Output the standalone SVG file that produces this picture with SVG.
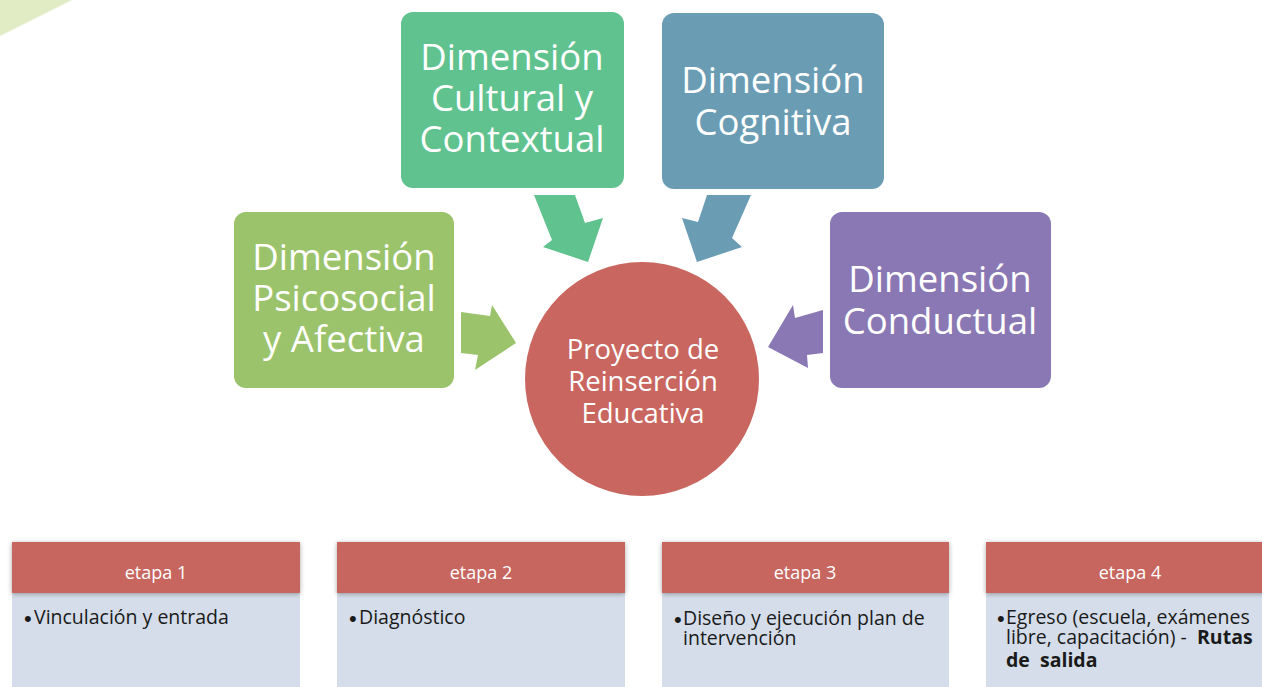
<svg xmlns="http://www.w3.org/2000/svg" width="1262" height="687" viewBox="0 0 1262 687">
  <defs>
    <style>
      .big { font-family: "Open Sans", "Liberation Sans", sans-serif; font-size: 36.5px; fill: #ffffff; text-anchor: middle; }
      .mid { font-family: "Open Sans", "Liberation Sans", sans-serif; font-size: 27.5px; fill: #ffffff; text-anchor: middle; }
      .hd { font-family: "Open Sans", "Liberation Sans", sans-serif; font-size: 18px; fill: #ffffff; text-anchor: middle; }
      .bd { font-family: "Open Sans", "Liberation Sans", sans-serif; font-size: 19.5px; fill: #1a1a1a; white-space: pre; }
      .bu { font-family: "Liberation Sans", sans-serif; font-size: 22px; }
      .b { font-weight: bold; }
      .hdr { fill: #c7665f; }
      .body { fill: #d4dde9; }
    </style>
    <filter id="sh" x="-5%" y="-20%" width="110%" height="140%">
      <feGaussianBlur in="SourceAlpha" stdDeviation="2.5"/>
      <feOffset dx="0" dy="1" result="b"/>
      <feComponentTransfer><feFuncA type="linear" slope="0.35"/></feComponentTransfer>
      <feMerge><feMergeNode/><feMergeNode in="SourceGraphic"/></feMerge>
    </filter>
  </defs>

  <rect width="1262" height="687" fill="#ffffff"/>
  <polygon points="0,0 72,0 0,36" fill="#e2ecc4"/>

  <g id="connectors">
    <polygon points="461,312 490,316 492,305 516,343 475,370 478,355 461,353" fill="#9bc36b"/>
    <polygon points="534,195 575,195 585,223 603,218 588,262 543,247 552,240" fill="#5fc28f"/>
    <polygon points="751,195 707,195 698,222 682,218 697,262 742,247 732,238" fill="#6a9cb4"/>
    <polygon points="823,310 795,318 793,305 768,347 808,368 807,355 823,353" fill="#8a78b4"/>
  </g>

  <g id="dim-psicosocial">
    <rect x="234" y="212" width="220" height="176" rx="12" fill="#9bc36b"/>
    <text class="big"><tspan x="344" y="270">Dimensión</tspan><tspan x="344" y="311">Psicosocial</tspan><tspan x="344" y="352">y Afectiva</tspan></text>
  </g>

  <g id="dim-cultural">
    <rect x="401" y="12" width="223" height="176" rx="12" fill="#5fc28f"/>
    <text class="big"><tspan x="512" y="70">Dimensión</tspan><tspan x="512" y="111">Cultural y</tspan><tspan x="512" y="152">Contextual</tspan></text>
  </g>

  <g id="dim-cognitiva">
    <rect x="662" y="13" width="222" height="176" rx="12" fill="#6a9cb4"/>
    <text class="big"><tspan x="773" y="93">Dimensión</tspan><tspan x="773" y="135">Cognitiva</tspan></text>
  </g>

  <g id="dim-conductual">
    <rect x="830" y="212" width="221" height="176" rx="12" fill="#8a78b4"/>
    <text class="big"><tspan x="940" y="292">Dimensión</tspan><tspan x="940" y="334">Conductual</tspan></text>
  </g>

  <g id="proyecto">
    <circle cx="642" cy="379" r="117" fill="#c8665f"/>
    <text class="mid"><tspan x="643" y="359">Proyecto de</tspan><tspan x="643" y="391">Reinserción</tspan><tspan x="643" y="423">Educativa</tspan></text>
  </g>

  <g id="etapa1">
    <rect class="body" x="12" y="593" width="288" height="94"/>
    <rect class="hdr" x="12" y="542" width="288" height="51" filter="url(#sh)"/>
    <text class="hd" x="156" y="579">etapa 1</text>
    <text class="bd"><tspan class="bu" x="24" y="626">•</tspan><tspan x="34" y="624">Vinculación y entrada</tspan></text>
  </g>

  <g id="etapa2">
    <rect class="body" x="337" y="593" width="288" height="94"/>
    <rect class="hdr" x="337" y="542" width="288" height="51" filter="url(#sh)"/>
    <text class="hd" x="481" y="579">etapa 2</text>
    <text class="bd"><tspan class="bu" x="349" y="626">•</tspan><tspan x="359" y="624">Diagnóstico</tspan></text>
  </g>

  <g id="etapa3">
    <rect class="body" x="662" y="593" width="287" height="94"/>
    <rect class="hdr" x="662" y="542" width="287" height="51" filter="url(#sh)"/>
    <text class="hd" x="805" y="579">etapa 3</text>
    <text class="bd"><tspan class="bu" x="674" y="627">•</tspan><tspan x="683" y="625">Diseño y ejecución plan de</tspan><tspan x="683" y="645">intervención</tspan></text>
  </g>

  <g id="etapa4">
    <rect class="body" x="986" y="593" width="290" height="94"/>
    <rect class="hdr" x="986" y="542" width="290" height="51" filter="url(#sh)"/>
    <text class="hd" x="1130" y="579">etapa 4</text>
    <text class="bd"><tspan class="bu" x="997" y="626">•</tspan><tspan x="1006" y="624">Egreso (escuela, exámenes</tspan><tspan x="1006" y="644">libre, capacitación) -  <tspan class="b">Rutas</tspan></tspan><tspan class="b" x="1006" y="667">de  salida</tspan></text>
  </g>
</svg>
